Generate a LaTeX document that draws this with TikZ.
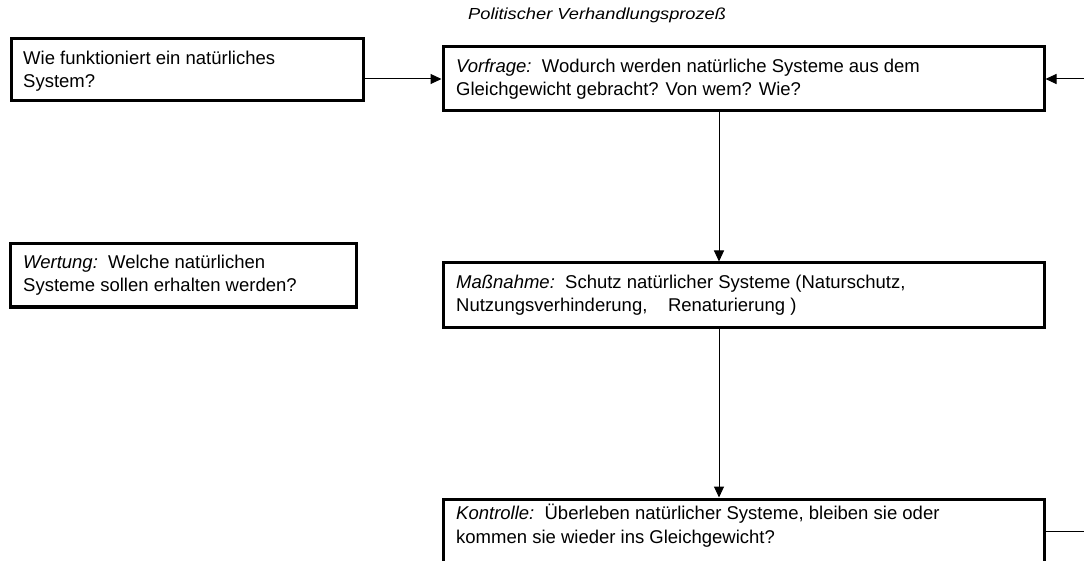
\documentclass[tikz,border=0pt]{standalone}
\usepackage{fontspec}
\setmainfont{Liberation Sans}
\usetikzlibrary{arrows.meta}
\begin{document}
\begin{tikzpicture}[x=1pt,y=-1pt,
  box/.style={draw, line width=3pt, inner sep=0pt, rectangle},
  txt/.style={anchor=base west, inner sep=0pt, font=\fontsize{18.5}{22}\selectfont},
  ttl/.style={anchor=base west, inner sep=0pt, font=\fontsize{16}{19}\selectfont\itshape},
  arr/.style={line width=1pt, -{Triangle[length=11pt,width=10pt]}},
  ln/.style={line width=1pt}]
\useasboundingbox (0,0) rectangle (1084,561);
\clip (0,0) rectangle (1084,561);
% boxes
\node[box, minimum width=352, minimum height=62] (A) at (187,70) {};
\node[box, minimum width=601, minimum height=64] (B) at (743.5,79) {};
\node[box, minimum width=346, minimum height=63] (C) at (183,275.5) {};
\node[box, minimum width=601, minimum height=64] (D) at (743.5,295) {};
\node[box, minimum width=601, minimum height=64] (E) at (743.5,531) {};
% title
\node[ttl] (T) at (468,20) {\scalebox{1.14}[1]{Politischer Verhandlungsprozeß}};
% texts
\node[txt] (a1) at (23,65) {Wie funktioniert ein natürliches};
\node[txt] (a2) at (23,88) {System?};
\node[txt] (b1) at (456,72.5) {\textit{Vorfrage:}\ \ Wodurch werden natürliche Systeme aus dem};
\node[txt] (b2) at (456,96) {Gleichgewicht gebracht? Von wem? Wie?};
\node[txt] (c1) at (23,268.5) {\textit{Wertung:}\ \ Welche natürlichen};
\node[txt] (c2) at (23,292) {Systeme sollen erhalten werden?};
\node[txt] (d1) at (456,288.5) {\textit{Maßnahme:}\ \ Schutz natürlicher Systeme (Naturschutz,};
\node[txt] (d2) at (456,312) {Nutzungsverhinderung,\ \ \ \ Renaturierung )};
\node[txt] (e1) at (456,519.5) {\textit{Kontrolle:}\ \ Überleben natürlicher Systeme, bleiben sie oder};
\node[txt] (e2) at (456,543) {kommen sie wieder ins Gleichgewicht?};
% connectors
\coordinate (vx) at (719,0);
\coordinate (rx) at (1084,0);
\draw[arr] (A.east |- B.west) -- (B.west);
\draw[arr] (B.east -| rx) -- (B.east);
\draw[arr] (B.south -| vx) -- (D.north -| vx);
\draw[arr] (D.south -| vx) -- (E.north -| vx);
\draw[ln] (E.east) -- (E.east -| rx);
\end{tikzpicture}
\end{document}
